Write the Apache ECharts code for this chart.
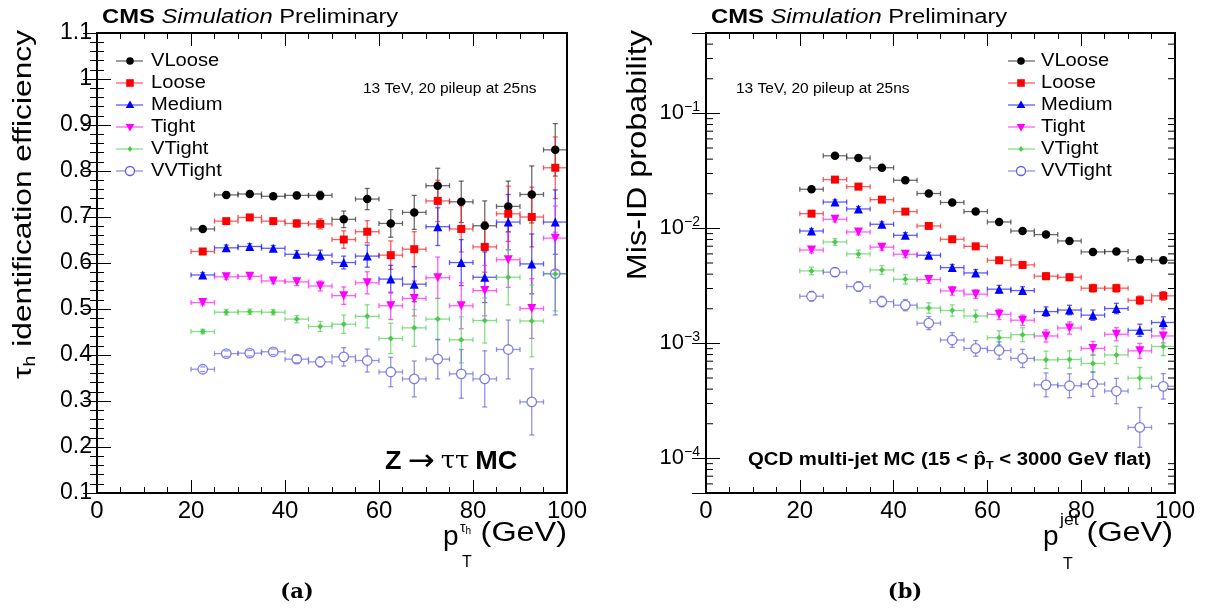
<!DOCTYPE html>
<html><head><meta charset="utf-8">
<script src="https://cdn.jsdelivr.net/npm/echarts@6/dist/echarts.min.js"></script>
<style>html,body{margin:0;padding:0;background:#fff}#c{width:1206px;height:613px}</style>
</head><body><div id="c"></div>
<script>
const FONT = '"Liberation Sans", Arial, Helvetica, sans-serif';
// pT bin centres (GeV), bins of width 5 from 20 to 100
const ptBins = [22.5,27.5,32.5,37.5,42.5,47.5,52.5,57.5,62.5,67.5,72.5,77.5,82.5,87.5,92.5,97.5];
const binHalfWidth = 2.5;
const wpNames = ['VLoose','Loose','Medium','Tight','VTight','VVTight'];

// (a) tau_h identification efficiency
const effVLoose  = [0.674,0.748,0.750,0.745,0.747,0.747,0.695,0.739,0.686,0.710,0.768,0.733,0.681,0.723,0.749,0.846];
const errVLoose  = [0.005,0.006,0.006,0.006,0.007,0.009,0.018,0.023,0.030,0.037,0.038,0.045,0.054,0.055,0.062,0.057];
const effLoose   = [0.625,0.691,0.699,0.691,0.686,0.685,0.651,0.668,0.617,0.630,0.735,0.674,0.635,0.707,0.700,0.807];
const errLoose   = [0.005,0.006,0.006,0.006,0.008,0.011,0.019,0.024,0.031,0.038,0.045,0.050,0.055,0.060,0.065,0.067];
const effMedium  = [0.574,0.633,0.636,0.632,0.619,0.617,0.601,0.615,0.565,0.554,0.679,0.601,0.569,0.689,0.598,0.689];
const errMedium  = [0.005,0.006,0.006,0.006,0.008,0.011,0.014,0.024,0.030,0.038,0.041,0.050,0.055,0.060,0.065,0.070];
const effTight   = [0.514,0.570,0.571,0.561,0.559,0.550,0.529,0.557,0.507,0.523,0.568,0.507,0.540,0.607,0.501,0.654];
const errTight   = [0.005,0.006,0.006,0.006,0.008,0.011,0.019,0.024,0.030,0.038,0.045,0.050,0.055,0.060,0.065,0.070];
const effVTight  = [0.451,0.493,0.494,0.493,0.478,0.462,0.467,0.484,0.436,0.459,0.478,0.433,0.475,0.569,0.474,0.576];
const errVTight  = [0.005,0.006,0.006,0.006,0.008,0.011,0.020,0.025,0.033,0.040,0.045,0.050,0.049,0.060,0.078,0.080];
const effVVTight = [0.369,0.403,0.404,0.407,0.391,0.385,0.396,0.388,0.363,0.348,0.391,0.359,0.348,0.412,0.298,0.577];
const errVVTight = [0.005,0.006,0.006,0.006,0.008,0.011,0.020,0.025,0.032,0.039,0.043,0.053,0.061,0.064,0.072,0.090];

// (b) jet -> tau_h mis-ID probability (relative errors)
const misVLoose  = [0.0219,0.0428,0.0409,0.0337,0.0262,0.0201,0.0168,0.0140,0.01137,0.00949,0.00883,0.00778,0.00624,0.00629,0.00535,0.00528];
const relVLoose  = [0.03,0.03,0.03,0.03,0.03,0.03,0.035,0.04,0.04,0.045,0.05,0.05,0.055,0.06,0.06,0.065];
const misLoose   = [0.01343,0.02655,0.02307,0.01778,0.01399,0.01050,0.00804,0.00698,0.00528,0.00481,0.00384,0.00376,0.00302,0.00302,0.00237,0.00259];
const relLoose   = [0.04,0.035,0.04,0.04,0.045,0.05,0.05,0.055,0.06,0.065,0.07,0.07,0.08,0.08,0.09,0.09];
const misMedium  = [0.00949,0.01695,0.01476,0.01086,0.00871,0.00584,0.00456,0.00410,0.00296,0.00288,0.00189,0.00195,0.00176,0.00201,0.00130,0.00152];
const relMedium  = [0.05,0.045,0.05,0.05,0.055,0.06,0.065,0.07,0.08,0.08,0.10,0.10,0.11,0.11,0.13,0.12];
const misTight   = [0.00649,0.01200,0.00931,0.00686,0.00596,0.00359,0.00286,0.00268,0.00179,0.00159,0.00116,0.00136,0.000904,0.00120,0.000861,0.00116];
const relTight   = [0.06,0.055,0.06,0.065,0.07,0.08,0.09,0.09,0.11,0.11,0.13,0.13,0.15,0.14,0.16,0.15];
const misVTight  = [0.00427,0.00762,0.00600,0.00435,0.00361,0.00203,0.00193,0.00173,0.00112,0.00119,0.000719,0.000725,0.000669,0.000794,0.000499,0.000940];
const relVTight  = [0.08,0.07,0.08,0.09,0.10,0.11,0.12,0.13,0.15,0.15,0.19,0.19,0.20,0.19,0.24,0.20];
const misVVTight = [0.00257,0.00416,0.00312,0.00231,0.00215,0.00150,0.00107,0.000904,0.000867,0.000740,0.000436,0.000428,0.000443,0.000385,0.000186,0.000423];
const relVVTight = [0.10,0.09,0.10,0.11,0.12,0.14,0.16,0.17,0.19,0.20,0.27,0.27,0.28,0.29,0.49,0.29];

const xTicks = [0,20,40,60,80,100];

const effSets = [[effVLoose,errVLoose],[effLoose,errLoose],[effMedium,errMedium],[effTight,errTight],[effVTight,errVTight],[effVVTight,errVVTight]];
const misSets = [[misVLoose,relVLoose],[misLoose,relLoose],[misMedium,relMedium],[misTight,relTight],[misVTight,relVTight],[misVVTight,relVVTight]];

const wpStyle = [
  {color:'#000000', line:'#333333', symbol:'circle',   size:8.5,rot:0,   hollow:false, gap:0},
  {color:'#ff0000', line:'#ff2020', symbol:'rect',     size:8,  rot:0,   hollow:false, gap:0},
  {color:'#0000ff', line:'#2020ff', symbol:'triangle', size:9,  rot:0,   hollow:false, gap:0},
  {color:'#ff00ff', line:'#ff20ff', symbol:'triangle', size:9,  rot:180, hollow:false, gap:0},
  {color:'#4cc94c', line:'#5ad25a', symbol:'diamond',  size:6,  rot:0,   hollow:false, gap:0},
  {color:'#6262e0', line:'#6a6ae4', symbol:'circle',   size:9.5,rot:0,   hollow:true,  gap:4.7}
];

function errBars(name, xi, yi, vals, errs, isLog, st) {
  const data = [];
  ptBins.forEach((x,i)=>{ if (vals[i] != null) data.push([x, vals[i], errs[i]]); });
  return {
    type:'custom', name: name + '_err', xAxisIndex:xi, yAxisIndex:yi, silent:true, clip:true, z:2,
    data: data,
    renderItem: function(params, api){
      const x = api.value(0), y = api.value(1), e = api.value(2);
      const lo = isLog ? y/(1+e) : y - e;
      const hi = isLog ? y*(1+e) : y + e;
      const c = api.coord([x,y]);
      const l = api.coord([x-binHalfWidth,y]);
      const r = api.coord([x+binHalfWidth,y]);
      const t = api.coord([x,hi]);
      const b = api.coord([x,lo]);
      const g = st.gap, cap = 2.5;
      const segs = [];
      segs.push([l[0],c[1],c[0]-g,c[1]]);
      segs.push([c[0]+g,c[1],r[0],c[1]]);
      if (t[1] < c[1]-g) segs.push([c[0],t[1],c[0],c[1]-g]);
      if (b[1] > c[1]+g) segs.push([c[0],c[1]+g,c[0],b[1]]);
      segs.push([l[0],c[1]-cap,l[0],c[1]+cap]);
      segs.push([r[0],c[1]-cap,r[0],c[1]+cap]);
      segs.push([c[0]-cap,t[1],c[0]+cap,t[1]]);
      segs.push([c[0]-cap,b[1],c[0]+cap,b[1]]);
      return {type:'group', children: segs.map(s=>({type:'line', shape:{x1:s[0],y1:s[1],x2:s[2],y2:s[3]}, style:{stroke:st.line, lineWidth:1.3, opacity:0.72}}))};
    }
  };
}
function markers(name, xi, yi, vals, st) {
  const data = [];
  ptBins.forEach((x,i)=>{ if (vals[i] != null) data.push([x, vals[i]]); });
  return {
    type:'scatter', name:name, xAxisIndex:xi, yAxisIndex:yi, silent:true, z:2,
    symbol: st.symbol, symbolSize: st.size, symbolRotate: st.rot,
    itemStyle: st.hollow ? {color:'rgba(255,255,255,0)', borderColor:st.color, borderWidth:1.3} : {color:st.color, opacity:1},
    data: data
  };
}

const series = [];
wpNames.forEach((n,k)=>{
  series.push(errBars(n,0,0,effSets[k][0],effSets[k][1],false,wpStyle[k]));
  series.push(markers(n,0,0,effSets[k][0],wpStyle[k]));
});
wpNames.forEach((n,k)=>{
  series.push(errBars(n,2,2,misSets[k][0],misSets[k][1],true,wpStyle[k]));
  series.push(markers(n,2,2,misSets[k][0],wpStyle[k]));
});
// minor ticks of the log axis (2..9 x 10^n), drawn through the axis scale
series.push({
  type:'custom', xAxisIndex:2, yAxisIndex:2, silent:true, z:5, clip:false,
  data:[[50, 0.01]],
  renderItem: function(params, api){
    const ch = [];
    for (let n=-5; n<=0; n++) for (let k=2; k<=9; k++) {
      const v = k*Math.pow(10,n);
      if (v <= 5e-5 || v >= 0.5) continue;
      const p = api.coord([0,v]), q = api.coord([100,v]);
      ch.push({type:'line', shape:{x1:p[0],y1:p[1],x2:p[0]+7,y2:p[1]}, style:{stroke:'#000',lineWidth:1}});
      ch.push({type:'line', shape:{x1:q[0],y1:q[1],x2:q[0]-7,y2:q[1]}, style:{stroke:'#000',lineWidth:1}});
    }
    return {type:'group', children: ch};
  }
});

function xAx(grid, pos, labels) {
  return {type:'value', gridIndex:grid, position:pos, min:xTicks[0], max:xTicks[xTicks.length-1], interval:xTicks[1]-xTicks[0],
    axisLine:{show:false}, splitLine:{show:false},
    axisTick:{show:true, inside:true, length:13, lineStyle:{color:'#000',width:1}},
    minorTick:{show:true, splitNumber:4, length:6, lineStyle:{color:'#000',width:1}},
    axisLabel:{show:labels, color:'#000', fontSize:24, fontFamily:FONT, margin:6}};
}
function yAxLin(pos, labels) {
  return {type:'value', gridIndex:0, position:pos, min:0.1, max:1.1, interval:0.1,
    axisLine:{show:false}, splitLine:{show:false},
    axisTick:{show:true, inside:true, length:14, lineStyle:{color:'#000',width:1}},
    minorTick:{show:true, splitNumber:5, length:7, lineStyle:{color:'#000',width:1}},
    axisLabel:{show:labels, color:'#000', fontSize:23, fontFamily:FONT, margin:5,
      formatter: v => String(parseFloat(v.toFixed(1)))}};
}
function yAxLog(pos, labels) {
  return {type:'log', logBase:10, gridIndex:1, position:pos, min:5e-5, max:0.5,
    axisLine:{show:false}, splitLine:{show:false},
    axisTick:{show:true, inside:true, length:14, lineStyle:{color:'#000',width:1}},
    minorTick:{show:false},
    axisLabel:{show:labels, color:'#000', fontFamily:FONT, margin:6,
      formatter: function(v){ const n = Math.log10(v); const r = Math.round(n);
        if (Math.abs(n-r) > 1e-6) return ''; return '{b|10}{s|' + (r<0?'\u2212':'') + Math.abs(r) + '}'; },
      rich:{ b:{fontSize:22, fontFamily:FONT, color:'#000', lineHeight:26},
             s:{fontSize:14, fontFamily:FONT, color:'#000', lineHeight:14, verticalAlign:'top'} }}};
}

function txt(x, y, text, opts) {
  return Object.assign({type:'text', x:x, y:y, silent:true, style:Object.assign({text:text, fill:'#000', font:'20px '+FONT, align:'left', verticalAlign:'middle'}, opts.style||{})}, opts.el||{});
}
function legendEls(x1, x2, xm, xt, rows) {
  const els = [];
  wpNames.forEach((n,k)=>{
    const st = wpStyle[k], y = rows[k];
    els.push({type:'line', silent:true, shape:{x1:x1,y1:y,x2:x2,y2:y}, style:{stroke:st.line, lineWidth:1.3, opacity:0.72}});
    let m;
    if (st.symbol === 'circle' && !st.hollow) m = {type:'circle', shape:{cx:xm,cy:y,r:3.8}, style:{fill:st.color}};
    else if (st.hollow) m = {type:'circle', shape:{cx:xm,cy:y,r:4.5}, style:{fill:'#fff', stroke:st.color, lineWidth:1.3}};
    else if (st.symbol === 'rect') m = {type:'rect', shape:{x:xm-3.8,y:y-3.8,width:7.6,height:7.6}, style:{fill:st.color}};
    else if (st.symbol === 'triangle' && st.rot === 0) m = {type:'polygon', shape:{points:[[xm,y-4.5],[xm+4.3,y+3],[xm-4.3,y+3]]}, style:{fill:st.color}};
    else if (st.symbol === 'triangle') m = {type:'polygon', shape:{points:[[xm,y+4.5],[xm+4.3,y-3],[xm-4.3,y-3]]}, style:{fill:st.color}};
    else m = {type:'polygon', shape:{points:[[xm,y-3],[xm+2.4,y],[xm,y+3],[xm-2.4,y]]}, style:{fill:st.color}};
    m.silent = true; els.push(m);
    els.push(txt(xt, y, n, {style:{font:'17.5px '+FONT}, el:{scaleX:1.15}}));
  });
  return els;
}

const rows = [61,83,105,127,149,171];
const cmsRich = {c:{font:'bold 20px '+FONT}, i:{font:'italic 20px '+FONT}, n:{font:'20px '+FONT}};
const graphics = [].concat(
  [
    txt(102,17,'{c|CMS} {i|Simulation} {n|Preliminary}', {style:{rich:cmsRich}, el:{scaleX:1.19}}),
    txt(711,17,'{c|CMS} {i|Simulation} {n|Preliminary}', {style:{rich:cmsRich}, el:{scaleX:1.19}}),
    txt(363,89,'13 TeV, 20 pileup at 25ns', {style:{font:'15.5px '+FONT}}),
    txt(736,89,'13 TeV, 20 pileup at 25ns', {style:{font:'15.5px '+FONT}}),
    // y titles
    txt(24,30,'{t|\u03c4}{h|h}{t| identification efficiency}', {style:{align:'right', rich:{t:{font:'26px '+FONT, lineHeight:30}, h:{font:'16px '+FONT, lineHeight:16, verticalAlign:'bottom'}}}, el:{rotation:Math.PI/2, scaleX:1.22}}),
    txt(639,30,'Mis-ID probability', {style:{align:'right', font:'27px '+FONT}, el:{rotation:Math.PI/2, scaleX:1.2}}),
    // x titles
    txt(443,537,'p', {style:{font:'28px '+FONT}}),
    txt(462,563,'T', {style:{font:'16px '+FONT}}),
    txt(460,528,'{t|\u03c4}{h|h}', {style:{rich:{t:{font:'14px '+FONT, lineHeight:16}, h:{font:'10px '+FONT, lineHeight:10, verticalAlign:'bottom'}}}}),
    txt(567,534,'(GeV)', {style:{align:'right', font:'27px '+FONT}, el:{scaleX:1.2}}),
    txt(1043,537,'p', {style:{font:'28px '+FONT}}),
    txt(1063,565,'T', {style:{font:'16px '+FONT}}),
    txt(1060,521,'jet', {style:{font:'16px '+FONT}, el:{scaleX:1.1}}),
    txt(1173,534,'(GeV)', {style:{align:'right', font:'27px '+FONT}, el:{scaleX:1.2}}),
    // process labels
    txt(385,462,'{b|Z} {a|\u2192} {g|\u03c4\u03c4} {b|MC}', {style:{rich:{b:{font:'bold 25px '+FONT}, a:{font:'30px "DejaVu Sans", sans-serif'}, g:{font:'24px "DejaVu Serif", serif'}}}, el:{scaleX:1.08}}),
    txt(748,460,'{b|QCD multi-jet MC (15 < p\u0302}{s|T}{b| < 3000 GeV flat)}', {style:{rich:{b:{font:'bold 18px '+FONT, lineHeight:22}, s:{font:'bold 11px '+FONT, lineHeight:11, verticalAlign:'bottom'}}}, el:{scaleX:1.13}}),
    // panel labels
    txt(297,593,'(a)', {style:{align:'center', font:'bold 21px "DejaVu Serif", "Liberation Serif", serif'}}),
    txt(905,593,'(b)', {style:{align:'center', font:'bold 21px "DejaVu Serif", "Liberation Serif", serif'}})
  ],
  legendEls(116,143,130,151,rows),
  legendEls(1008,1035,1021,1041,rows)
);

const chart = echarts.init(document.getElementById('c'), null, {renderer:'canvas'});
chart.setOption({
  animation:false,
  backgroundColor:'#fff',
  grid:[
    {left:97, top:33, width:470, height:460, show:true, borderColor:'#000', borderWidth:2, backgroundColor:'rgba(0,0,0,0)', z:10},
    {left:706, top:33, width:469, height:460, show:true, borderColor:'#000', borderWidth:2, backgroundColor:'rgba(0,0,0,0)', z:10}
  ],
  xAxis:[xAx(0,'bottom',true), xAx(0,'top',false), xAx(1,'bottom',true), xAx(1,'top',false)],
  yAxis:[yAxLin('left',true), yAxLin('right',false), yAxLog('left',true), yAxLog('right',false)],
  series: series,
  graphic: graphics
});
</script></body></html>
